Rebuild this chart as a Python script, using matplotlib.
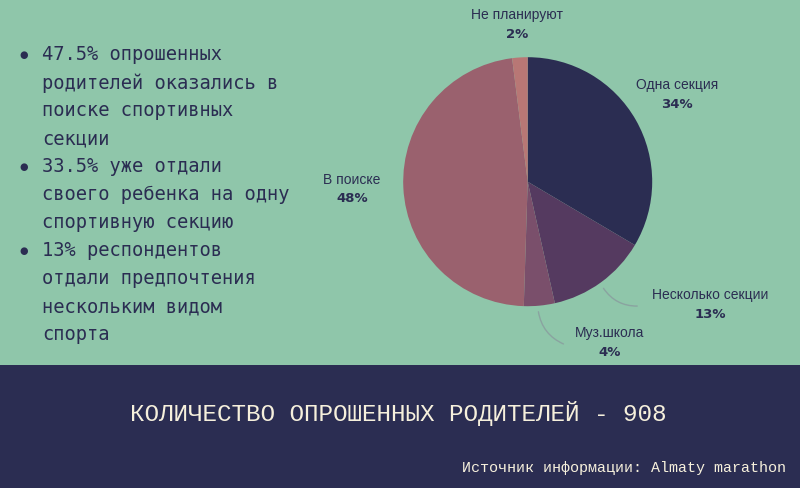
import matplotlib
matplotlib.use("Agg")
import matplotlib.pyplot as plt
from matplotlib.patches import Rectangle

# data
categories = ["Одна секция", "Несколько секции", "Муз.школа", "В поиске", "Не планируют"]
shares = [33.5, 13.0, 4.0, 47.5, 2.0]
pct_labels = ["34%", "13%", "4%", "48%", "2%"]
slice_colors = ["#2b2d52", "#553a60", "#7a4f6b", "#9a616e", "#b87775"]

bullets = [
    ["47.5% опрошенных", "родителей оказались в", "поиске спортивных", "секции"],
    ["33.5% уже отдали", "своего ребенка на одну", "спортивную секцию"],
    ["13% респондентов", "отдали предпочтения", "нескольким видом", "спорта"],
]
title = "КОЛИЧЕСТВО ОПРОШЕННЫХ РОДИТЕЛЕЙ - 908"
source = "Источник информации: Almaty marathon"

BG = "#8fc6aa"
NAVY = "#2b2d52"
CREAM = "#f6f0dc"
MONO = "Liberation Mono"
SANS = "Liberation Sans"

W, H = 800, 488
fig = plt.figure(figsize=(W / 100, H / 100), dpi=100)
fig.patch.set_facecolor(BG)

# overlay axes in pixel coordinates (y down)
bg = fig.add_axes([0, 0, 1, 1])
bg.set_xlim(0, W)
bg.set_ylim(H, 0)
bg.axis("off")
bg.add_patch(Rectangle((0, 365), W, H - 365, color=NAVY, lw=0))

# bullet list
y = 55
for block in bullets:
    bg.text(24, y, "●", fontsize=7, family="DejaVu Sans", color=NAVY, ha="center", va="center")
    for line in block:
        bg.text(42, y, line, fontsize=13.5, family="DejaVu Sans Mono", color=NAVY,
                ha="left", va="center")
        y += 28

bg.text(130, 413, title, fontsize=17.5, family=MONO, color=CREAM, ha="left", va="center")
bg.text(786, 468, source, fontsize=10.8, family=MONO, color=CREAM, ha="right", va="center")

# pie
cx, cy, r = 527.7, 181.7, 124.5
ax = fig.add_axes([(cx - r) / W, (H - cy - r) / H, 2 * r / W, 2 * r / H])
ax.pie(shares, colors=slice_colors, startangle=90, counterclock=False,
       radius=1, wedgeprops={"linewidth": 0})
ax.set_xlim(-1, 1)
ax.set_ylim(-1, 1)
ax.set_aspect("equal")
ax.axis("off")

label_pos = [(677, 85), (710, 295), (610, 333), (352, 180), (517, 15)]
for name, pct, (lx, ly) in zip(categories, pct_labels, label_pos):
    bg.text(lx, ly, name, fontsize=10, family=SANS, color=NAVY, ha="center", va="center")
    bg.text(lx, ly + 19, pct, fontsize=9.5, family="DejaVu Sans", fontweight="heavy",
            color=NAVY, ha="center", va="center")

# leader lines
lead = dict(arrowstyle="-", color="#8aa3a0", lw=1)
bg.annotate("", xy=(640, 306), xytext=(602, 286),
            arrowprops=dict(lead, connectionstyle="arc3,rad=0.3"))
bg.annotate("", xy=(566, 345), xytext=(538, 309),
            arrowprops=dict(lead, connectionstyle="arc3,rad=0.3"))

fig.savefig("out.png", dpi=100, facecolor=fig.get_facecolor())
